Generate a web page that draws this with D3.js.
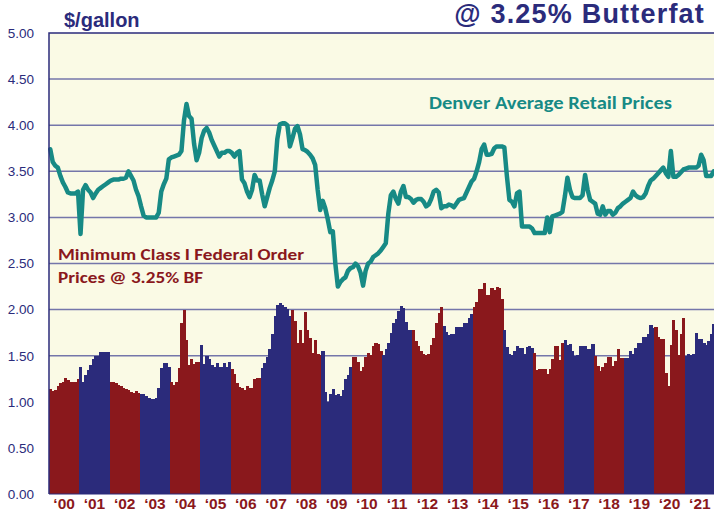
<!DOCTYPE html>
<html>
<head>
<meta charset="utf-8">
<script src="https://cdn.jsdelivr.net/npm/d3@7"></script>
<style>
	body { margin: 0; background: #ffffff; }
	svg { display: block; }
</style>
</head>
<body>
<div id="chart"></div>
<script>
//--------------------------------------------------
// dati
//--------------------------------------------------

var years = ["00","01","02","03","04","05","06","07","08","09","10","11","12","13","14","15","16","17","18","19","20","21"]

var yTicks = [0, 0.5, 1, 1.5, 2, 2.5, 3, 3.5, 4, 4.5, 5]

// Minimum Class I federal order price, $/gallon @ 3.25% BF, one row per year (Jan..Dec)
var classIPrice = [
	1.14,1.12,1.13,1.17,1.20,1.22,1.26,1.24,1.22,1.22,1.22,1.25,
	1.38,1.22,1.29,1.35,1.40,1.46,1.50,1.50,1.54,1.54,1.54,1.54,
	1.22,1.22,1.20,1.18,1.17,1.15,1.14,1.13,1.11,1.10,1.12,1.10,
	1.09,1.08,1.06,1.04,1.03,1.03,1.04,1.15,1.37,1.42,1.42,1.38,
	1.22,1.18,1.22,1.37,1.85,2.00,1.67,1.40,1.46,1.41,1.43,1.43,
	1.62,1.41,1.50,1.46,1.40,1.38,1.42,1.38,1.38,1.42,1.38,1.43,
	1.36,1.30,1.20,1.16,1.15,1.13,1.17,1.15,1.15,1.25,1.26,1.26,
	1.37,1.42,1.49,1.57,1.73,1.93,2.05,2.07,2.05,2.03,2.01,1.93,
	2.00,1.88,1.64,1.78,1.64,1.97,1.78,1.69,1.53,1.67,1.52,1.51,
	1.55,1.11,1.00,1.09,1.14,1.07,1.08,1.06,1.13,1.25,1.29,1.38,
	1.49,1.49,1.43,1.33,1.38,1.49,1.53,1.51,1.60,1.64,1.63,1.55,
	1.51,1.57,1.64,1.75,1.86,1.90,1.98,2.04,2.02,1.87,1.78,1.78,
	1.78,1.66,1.60,1.55,1.52,1.51,1.52,1.62,1.69,1.86,1.96,2.03,
	1.82,1.76,1.72,1.73,1.73,1.81,1.81,1.81,1.85,1.85,1.91,1.95,
	2.03,2.08,2.22,2.22,2.29,2.16,2.16,2.23,2.21,2.24,2.23,2.11,
	1.78,1.59,1.52,1.51,1.55,1.60,1.58,1.58,1.52,1.59,1.60,1.58,
	1.53,1.35,1.36,1.36,1.36,1.30,1.36,1.46,1.60,1.61,1.45,1.64,
	1.67,1.62,1.63,1.55,1.50,1.51,1.60,1.60,1.60,1.57,1.57,1.63,
	1.50,1.39,1.33,1.38,1.42,1.49,1.49,1.39,1.44,1.57,1.48,1.47,
	1.47,1.48,1.55,1.52,1.58,1.64,1.64,1.70,1.70,1.74,1.83,1.80,
	1.81,1.70,1.68,1.68,1.31,1.17,1.62,1.89,1.78,1.51,1.74,1.91,
	1.50,1.52,1.51,1.52,1.75,1.68,1.68,1.64,1.62,1.66,1.74,1.84
]

// Denver average retail price, $/gallon (Jan..Dec)
var denverRetail = [
	3.74,3.60,3.56,3.54,3.45,3.38,3.33,3.27,3.26,3.26,3.26,3.28,
	2.82,3.30,3.35,3.30,3.27,3.21,3.26,3.30,3.32,3.34,3.36,3.38,
	3.40,3.41,3.41,3.41,3.42,3.42,3.43,3.50,3.45,3.40,3.30,3.23,
	3.12,3.02,3.00,3.00,3.00,3.00,3.00,3.05,3.28,3.36,3.42,3.63,
	3.65,3.66,3.67,3.68,3.72,4.05,4.23,4.10,4.07,3.80,3.62,3.70,
	3.86,3.94,3.97,3.92,3.84,3.78,3.72,3.66,3.70,3.70,3.72,3.72,
	3.70,3.66,3.70,3.72,3.41,3.37,3.28,3.22,3.30,3.46,3.40,3.40,
	3.25,3.12,3.22,3.32,3.40,3.50,3.85,4.01,4.02,4.02,4.00,3.77,
	3.86,3.96,3.99,3.90,3.74,3.73,3.71,3.68,3.64,3.57,3.30,3.08,
	3.18,3.10,2.98,2.84,2.85,2.50,2.25,2.30,2.33,2.35,2.42,2.45,
	2.46,2.50,2.47,2.40,2.26,2.42,2.50,2.52,2.57,2.59,2.61,2.64,
	2.68,2.72,3.04,3.24,3.28,3.20,3.15,3.28,3.34,3.22,3.22,3.20,
	3.16,3.19,3.20,3.20,3.17,3.12,3.14,3.20,3.28,3.30,3.27,3.10,
	3.12,3.12,3.14,3.13,3.11,3.15,3.19,3.20,3.21,3.27,3.33,3.39,
	3.42,3.50,3.60,3.74,3.79,3.68,3.68,3.69,3.75,3.77,3.77,3.77,
	3.76,3.45,3.19,3.17,3.12,3.26,3.28,2.90,2.90,2.90,2.90,2.88,
	2.83,2.83,2.83,2.83,2.83,3.00,2.84,3.01,3.02,3.03,3.04,3.06,
	3.23,3.43,3.30,3.22,3.21,3.21,3.21,3.24,3.46,3.30,3.19,3.17,
	3.15,3.04,3.03,3.12,3.03,3.07,3.07,3.03,3.05,3.10,3.12,3.15,
	3.17,3.19,3.21,3.28,3.24,3.22,3.21,3.22,3.26,3.34,3.40,3.42,
	3.45,3.48,3.51,3.54,3.48,3.44,3.72,3.44,3.44,3.46,3.49,3.52,
	3.53,3.54,3.54,3.54,3.54,3.56,3.68,3.62,3.45,3.45,3.45,3.50
]

//--------------------------------------------------
// variabili
//--------------------------------------------------

var W = 714, H = 512
var plot = {left: 49, right: 715, top: 33, bottom: 494}

var color = {red: "#8a181c", blue: "#2b2b7b", teal: "#178a85", grid: "#7476aa", bg: "#fafae5"}

var months = d3.range(years.length * 12)

var x = d3.scaleBand()
	.domain(months)
	.range([plot.left, plot.right])
	.padding(0)

var xYear = d3.scaleBand()
	.domain(years)
	.range([plot.left, plot.right])

var y = d3.scaleLinear()
	.domain([0, 5])
	.range([plot.bottom, plot.top])

var svg = d3.select("#chart").append("svg")
	.attr("width", W)
	.attr("height", H)
	.style("font-family", "Arial, 'Liberation Sans', sans-serif")

// sfondo area grafico
svg.append("rect")
	.attr("x", plot.left)
	.attr("y", plot.top)
	.attr("width", plot.right - plot.left)
	.attr("height", plot.bottom - plot.top)
	.attr("fill", color.bg)

// griglia
svg.append("g")
	.selectAll("line")
	.data(yTicks.filter(function(d){ return d > 0 && d < 5 }))
	.enter()
	.append("line")
	.attr("x1", plot.left)
	.attr("x2", plot.right)
	.attr("y1", function(d){ return y(d) })
	.attr("y2", function(d){ return y(d) })
	.attr("stroke", color.grid)
	.attr("stroke-width", 1.5)

//--------------------------------------------------
// barre class I
//--------------------------------------------------

svg.append("g")
	.attr("shape-rendering", "crispEdges")   // niente righine chiare tra le barre
	.selectAll("rect")
	.data(classIPrice)
	.enter()
	.append("rect")
	.attr("x", function(d,i){ return x(i) })
	.attr("width", x.bandwidth() + 0.6)
	.attr("y", function(d){ return y(d) })
	.attr("height", function(d){ return y(0) - y(d) })
	.attr("fill", function(d,i){
		return Math.floor(i / 12) % 2 == 0 ? color.red : color.blue   // anni pari rossi, dispari blu
	})

//--------------------------------------------------
// linea Denver
//--------------------------------------------------

var line = d3.line()
	.x(function(d,i){ return x(i) + x.bandwidth() / 2 })
	.y(function(d){ return y(d) })

svg.append("path")
	.datum(denverRetail)
	.attr("d", line)
	.attr("fill", "none")
	.attr("stroke", color.teal)
	.attr("stroke-width", 4.5)
	.attr("stroke-linejoin", "round")
	.attr("stroke-linecap", "round")

// bordo superiore e sinistro
svg.append("path")
	.attr("d", "M" + plot.left + "," + plot.bottom + "V" + plot.top + "H" + plot.right)
	.attr("fill", "none")
	.attr("stroke", color.blue)
	.attr("stroke-width", 1.5)

svg.append("line")
	.attr("x1", plot.left).attr("x2", plot.right)
	.attr("y1", plot.bottom).attr("y2", plot.bottom)
	.attr("stroke", color.blue)
	.attr("stroke-width", 1)

//--------------------------------------------------
// assi
//--------------------------------------------------

var yAxis = svg.append("g")
	.attr("transform", "translate(" + plot.left + ",0)")
	.call(d3.axisLeft(y).tickValues(yTicks).tickFormat(d3.format(".2f")).tickSize(0).tickPadding(15))

yAxis.select(".domain").remove()
yAxis.selectAll("text")
	.attr("fill", color.blue)
	.style("font-size", "13.5px")
	.style("font-family", "Arial, 'Liberation Sans', sans-serif")

var xAxis = svg.append("g")
	.attr("transform", "translate(0," + plot.bottom + ")")
	.call(d3.axisBottom(xYear).tickFormat(function(d){ return "\u2018" + d }).tickSize(0).tickPadding(4))

xAxis.select(".domain").remove()
xAxis.selectAll("text")
	.attr("fill", color.red)
	.attr("dy", "0.71em")
	.style("font-size", "15.5px")
	.style("font-weight", "bold")
	.style("font-family", "Arial, 'Liberation Sans', sans-serif")

//--------------------------------------------------
// testi
//--------------------------------------------------

svg.append("text")
	.attr("x", 64)
	.attr("y", 27)
	.attr("fill", color.blue)
	.style("font-size", "20px")
	.style("font-weight", "bold")
	.text("$/gallon")

svg.append("text")
	.attr("x", 705)
	.attr("y", 23)
	.attr("text-anchor", "end")
	.attr("fill", color.blue)
	.style("font-size", "27px")
	.style("font-weight", "bold")
	.style("letter-spacing", "1.2px")
	.text("@ 3.25% Butterfat")

var calibri = "Carlito, Lato, 'Open Sans', sans-serif"

svg.append("text")
	.attr("x", 429)
	.attr("y", 109)
	.attr("fill", color.teal)
	.attr("textLength", 243)
	.attr("lengthAdjust", "spacingAndGlyphs")
	.style("font-family", calibri)
	.style("font-size", "18.5px")
	.style("font-weight", "bold")
	.text("Denver Average Retail Prices")

svg.append("text")
	.attr("x", 58)
	.attr("y", 260)
	.attr("fill", color.red)
	.attr("textLength", 246)
	.attr("lengthAdjust", "spacingAndGlyphs")
	.style("font-family", calibri)
	.style("font-size", "16.5px")
	.style("font-weight", "bold")
	.text("Minimum Class I Federal Order")

svg.append("text")
	.attr("x", 58)
	.attr("y", 283)
	.attr("fill", color.red)
	.attr("textLength", 145)
	.attr("lengthAdjust", "spacingAndGlyphs")
	.style("font-family", calibri)
	.style("font-size", "16.5px")
	.style("font-weight", "bold")
	.text("Prices @ 3.25% BF")
</script>
</body>
</html>
